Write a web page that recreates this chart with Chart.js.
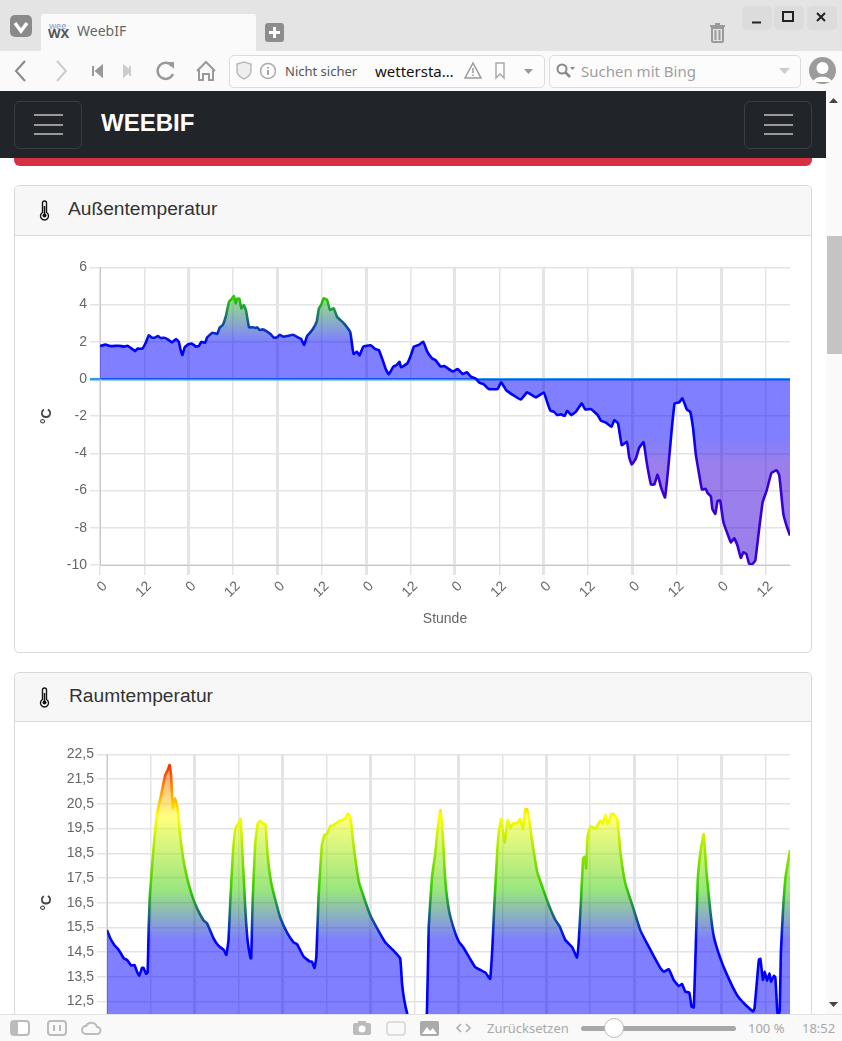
<!DOCTYPE html>
<html lang="de">
<head>
<meta charset="UTF-8">
<title>WeebIF</title>
<script src="https://cdn.jsdelivr.net/npm/chart.js"></script>
<style>
    html, body { margin: 0; padding: 0; width: 842px; height: 1041px; overflow: hidden; background: #fff; }
    body { position: relative; font-family: "Liberation Sans", Arial, sans-serif; }
    .abs, canvas, svg.abs { position: absolute; }
    .ui { position: absolute; font-family: "Noto Sans", sans-serif; white-space: nowrap; }
    #tabbar { left: 0; top: 0; width: 842px; height: 51px; background: #e4e4e4; }
    #tab { left: 41px; top: 14px; width: 215px; height: 37px; background: #fafafa; border-radius: 3px 3px 0 0; }
    #toolbar { left: 0; top: 51px; width: 842px; height: 40px; background: #fafafa; }
    .field { top: 55px; height: 31px; background: #fcfcfc; border: 1px solid #dcdcdc; border-radius: 5px; }
    #navbar { left: 0; top: 91px; width: 826px; height: 67px; background: #212529; z-index: 3; }
    .burger { top: 101px; width: 66px; height: 46px; border: 1px solid #3a3e43; border-radius: 6px; z-index: 4; }
    .burger i { position: absolute; left: 19px; width: 29px; height: 2px; background: #999; }
    #red { left: 14px; top: 150px; width: 798px; height: 16px; background: #d63042; border-radius: 0 0 6px 6px; }
    .card { left: 14px; width: 796px; border: 1px solid #d9d9d9; border-radius: 5px; background: #fff; }
    .head { left: 0; top: 0; width: 796px; background: #f7f7f7; border-bottom: 1px solid #d9d9d9; border-radius: 5px 5px 0 0; }
    .cardtitle { font-size: 19.2px; color: #333; z-index: 2; }
    #scroll { left: 826px; top: 91px; width: 16px; height: 923px; background: #fafafa; }
    #thumb { left: 827px; top: 236px; width: 15px; height: 118px; background: #c4c4c4; }
    #status { left: 0; top: 1014px; width: 842px; height: 26px; background: #f9f9f9; border-top: 1px solid #e2e2e2; border-bottom: 1px solid #333; z-index: 5; }
    .st { top: 1019px; font-size: 13px; color: #a8a8a8; z-index: 6; }
    .sicon { z-index: 6; }
</style>
</head>
<body>
<!-- browser chrome -->
<div class="abs" id="tabbar"></div>
<div class="abs" id="tab"></div>
<svg class="abs" style="left:10px;top:15px" width="23" height="23"><rect width="22" height="22" rx="5" fill="#8a8a8a"/><path d="M5 8 L11 16 L17 8" stroke="#fff" stroke-width="3.5" fill="none"/></svg>
<div class="ui" style="left:49px;top:21px;font-size:9px;line-height:9px;color:#8a96c8">wee</div>
<div class="ui" style="left:48px;top:27px;font-size:13px;line-height:13px;font-weight:700;color:#555">WX</div>
<div class="ui" style="left:77px;top:22px;font-size:14px;line-height:18px;color:#666">WeebIF</div>
<svg class="abs" style="left:265px;top:23px" width="20" height="20"><rect width="19" height="19" rx="3" fill="#8d8d8d"/><path d="M9.5 4v11M4 9.5h11" stroke="#fff" stroke-width="3"/></svg>
<svg class="abs" style="left:709px;top:23px" width="17" height="20"><path d="M1 3h15M6 1h5M3 5h11v13a1 1 0 0 1-1 1H4a1 1 0 0 1-1-1zM6.500 7v10M10.500 7v10" stroke="#9a9a9a" stroke-width="2" fill="none"/></svg>
<div class="abs" style="left:742px;top:6px;width:30px;height:24px;background:#dcdcdc;border-radius:5px"></div>
<div class="abs" style="left:774px;top:6px;width:30px;height:24px;background:#dcdcdc;border-radius:5px"></div>
<div class="abs" style="left:807px;top:6px;width:30px;height:24px;background:#dcdcdc;border-radius:5px"></div>
<svg class="abs" style="left:742px;top:6px" width="96" height="24"><path d="M10 16.500h9" stroke="#222" stroke-width="2"/><rect x="41" y="6" width="10" height="9" stroke="#222" stroke-width="2" fill="none"/><path d="M75 7l8 8M83 7l-8 8" stroke="#222" stroke-width="2"/></svg>

<div class="abs" id="toolbar"></div>
<svg class="abs" style="left:12px;top:58px" width="205" height="28">
    <path d="M13 3 L4 13 L13 23" stroke="#888" stroke-width="2" fill="none"/>
    <path d="M45 3 L54 13 L45 23" stroke="#ccc" stroke-width="2" fill="none"/>
    <path d="M81 8v10M90 8l-6 5 6 5z" stroke="#999" stroke-width="2" fill="#999"/>
    <path d="M112 8l6 5-6 5zM118 8v10" stroke="#ccc" stroke-width="2" fill="#ccc"/>
    <path d="M160 8a8 8 0 1 0 1 8" stroke="#999" stroke-width="2.500" fill="none"/><path d="M155 4h7v7z" fill="#999"/>
    <path d="M185 13l9-9 9 9M187 12v10h4v-6h6v6h4V12" stroke="#999" stroke-width="2" fill="none"/>
</svg>
<div class="abs field" style="left:229px;width:314px"></div>
<svg class="abs" style="left:236px;top:61px" width="40" height="20"><path d="M1 3l7-2 7 2v7c0 4-3 6-7 8-4-2-7-4-7-8z" stroke="#bbb" stroke-width="1.500" fill="#eee"/><circle cx="32" cy="10" r="7.500" stroke="#aaa" fill="none" stroke-width="1.500"/><path d="M32 9v5M32 6v1.500" stroke="#888" stroke-width="1.500"/></svg>
<div class="ui" style="left:285px;top:62px;font-size:13px;line-height:18px;color:#555">Nicht sicher</div>
<div class="ui" style="left:375px;top:61px;font-size:15px;line-height:20px;color:#111">wettersta…</div>
<svg class="abs" style="left:464px;top:61px" width="75" height="20"><path d="M9 2l8 15H1z" stroke="#999" stroke-width="1.500" fill="none"/><path d="M9 7v5M9 13.500v1.500" stroke="#999" stroke-width="1.500"/><path d="M32 2h8v15l-4-4-4 4z" stroke="#aaa" stroke-width="1.500" fill="none"/><path d="M60 8h9l-4.500 5z" fill="#999"/></svg>
<div class="abs field" style="left:549px;width:250px"></div>
<svg class="abs" style="left:556px;top:62px" width="20" height="18"><circle cx="6" cy="7" r="4.500" stroke="#888" stroke-width="2" fill="none"/><path d="M9 10l5 5" stroke="#888" stroke-width="2.500"/><path d="M14 5h5l-2.500 3z" fill="#888"/></svg>
<div class="ui" style="left:581px;top:60px;font-size:15px;line-height:22px;color:#a0a0a0">Suchen mit Bing</div>
<svg class="abs" style="left:778px;top:67px" width="14" height="8"><path d="M1 1h11l-5.500 6z" fill="#ccc"/></svg>
<svg class="abs" style="left:809px;top:57px" width="27" height="27"><circle cx="13.500" cy="13.500" r="13.500" fill="#9c9c9c"/><circle cx="13.500" cy="11" r="6" fill="#fff"/><path d="M4 25c2-7 17-7 19 0z" fill="#fff"/></svg>

<!-- page -->
<div class="abs" id="red"></div>
<div class="abs" id="navbar"></div>
<div class="abs burger" style="left:14px"><i style="top:12px"></i><i style="top:22px"></i><i style="top:31px"></i></div>
<div class="abs burger" style="left:744px"><i style="top:12px"></i><i style="top:22px"></i><i style="top:31px"></i></div>
<div class="abs" style="left:101px;top:108px;font-size:24px;line-height:30px;font-weight:700;color:#fff;z-index:4">WEEBIF</div>
<div class="abs" id="scroll"></div>
<div class="abs" id="thumb"></div>
<svg class="abs" style="left:829px;top:97px" width="10" height="6"><path d="M0 6h9L4.500 1z" fill="#444"/></svg>
<svg class="abs" style="left:829px;top:1002px" width="10" height="6"><path d="M0 0h9L4.500 5z" fill="#444"/></svg>

<div class="abs card" style="top:185px;height:466px"><div class="abs head" style="height:49px"></div></div>
<svg class="abs" style="left:39px;top:200px;z-index:2" width="11" height="21"><path d="M3.500 3a2 2 0 0 1 4 0v9.500a4 4 0 1 1-4 0z" stroke="#111" stroke-width="1.400" fill="#fff"/><path d="M5.500 6v9" stroke="#111" stroke-width="1.500"/><circle cx="5.500" cy="15.500" r="2" fill="#111"/></svg>
<div class="abs cardtitle" style="left:68px;top:198px;line-height:22px">Außentemperatur</div>
<canvas id="outsideChart" width="768" height="376" style="left:34px;top:256px"></canvas>

<div class="abs card" style="top:672px;height:420px"><div class="abs head" style="height:48px"></div></div>
<svg class="abs" style="left:39px;top:687px;z-index:2" width="11" height="21"><path d="M3.500 3a2 2 0 0 1 4 0v9.500a4 4 0 1 1-4 0z" stroke="#111" stroke-width="1.400" fill="#fff"/><path d="M5.500 6v9" stroke="#111" stroke-width="1.500"/><circle cx="5.500" cy="15.500" r="2" fill="#111"/></svg>
<div class="abs cardtitle" style="left:69px;top:685px;line-height:22px">Raumtemperatur</div>
<canvas id="roomChart" width="768" height="375" style="left:34px;top:743px"></canvas>

<!-- status bar -->
<div class="abs" id="status"></div>
<svg class="abs sicon" style="left:10px;top:1020px" width="95" height="16">
    <rect x="1" y="1" width="18" height="14" rx="3" fill="#fff" stroke="#bbb" stroke-width="2"/><rect x="1" y="1" width="7" height="14" rx="2" fill="#bbb"/>
    <rect x="38" y="1" width="18" height="14" rx="3" fill="none" stroke="#bbb" stroke-width="2"/><path d="M44 5v6M50 5v6" stroke="#bbb" stroke-width="2"/>
    <path d="M76 14a4 4 0 0 1 0-8 6 6 0 0 1 11 1 3.500 3.500 0 0 1 0 7z" fill="none" stroke="#bbb" stroke-width="2"/>
</svg>
<svg class="abs sicon" style="left:352px;top:1020px" width="122" height="16">
    <rect x="1" y="3" width="18" height="12" rx="2" fill="#bbb"/><circle cx="10" cy="9" r="3.500" fill="#fff"/><rect x="6" y="1" width="8" height="3" fill="#bbb"/>
    <rect x="35" y="2" width="18" height="13" rx="3" fill="none" stroke="#ddd" stroke-width="2"/>
    <rect x="68" y="1" width="19" height="15" rx="2" fill="#aaa"/><path d="M70 14l5-7 3 4 3-3 4 6z" fill="#fff"/>
    <path d="M109 4l-4 4 4 4M114 4l4 4-4 4" stroke="#aaa" stroke-width="1.500" fill="none"/>
</svg>
<div class="ui st" style="left:487px">Zurücksetzen</div>
<div class="abs sicon" style="left:581px;top:1026px;width:155px;height:5px;background:#a8a8a8;border-radius:3px"></div>
<div class="abs sicon" style="left:604px;top:1018px;width:18px;height:18px;background:#fff;border:1px solid #bbb;border-radius:50%"></div>
<div class="ui st" style="left:748px">100 %</div>
<div class="ui st" style="left:802px">18:52</div>

<script>
// Aussentemperatur: hours since start, degrees C
const outsideHours = [0,1.5,2.9,5.1,6.5,7.4,8.5,9.5,10.1,11.4,12.3,13.2,13.9,14.8,15.7,16.4,17.3,18.2,19.5,20.6,21.3,21.8,22.3,22.9,24,24.9,25.9,26.8,27.4,28.4,29,30.4,31.7,32.4,33.2,34,34.9,35.5,36.2,36.7,37.1,37.7,38.2,38.9,39.5,40.3,41.2,42.1,42.5,43.2,43.9,45,46.1,47,47.9,48.6,49.5,50.6,52.2,53.5,54.4,55.2,56,57.4,58.6,59.2,59.8,60.5,61.4,62.2,63.2,64.1,65.5,66.7,67.7,68.3,68.6,69.5,70.2,71.2,73.2,74.5,75.4,76.6,77.2,78.1,79.3,80.2,81,81.4,83.1,84,84.9,86.2,87.4,88.5,89.8,90.7,92.1,93.1,95.4,96.7,98.1,99.2,100.3,101.5,102.6,103.7,105.1,107.5,108.5,109.8,112,113.8,115.5,117.9,120,120.9,121.8,122.8,123.6,124.6,125.7,126.3,127.5,128.7,130.3,131.2,132.8,134.6,135.5,136.8,138.3,139.1,140.1,141.1,142.5,143.1,143.8,144.9,145.8,147,147.9,149,149.9,150.8,151.7,152.8,153.7,154.6,155.4,156.6,157.5,158.7,159.6,160.4,161.1,162,162.8,163.8,164.3,165.2,165.6,166.4,167,167.7,168.6,170.6,171.5,172.4,173.3,174,174.8,175.5,176.2,177.2,178.2,179.2,180.3,181.6,183,183.7,184.8,185.7,186.6];
const outsideTemps = [1.77,1.85,1.77,1.79,1.74,1.79,1.65,1.5,1.63,1.63,1.92,2.35,2.24,2.22,2.31,2.2,2.22,2.15,1.97,2.15,2,1.56,1.29,1.7,1.88,1.9,1.74,1.79,2,1.95,2.24,2.49,2.42,2.78,2.9,3.35,4.16,4.28,4.46,4.07,4.32,4.32,3.8,3.98,3.67,2.78,2.78,2.74,2.78,2.63,2.67,2.58,2.42,2.22,2.24,2.38,2.28,2.31,2.38,2.24,2.15,1.83,2.31,2.63,3.08,3.8,3.98,4.34,4.25,3.71,3.8,3.35,3.08,2.81,2.51,1.65,1.34,1.47,1.27,1.74,1.81,1.6,1.56,0.93,0.57,0.25,0.66,0.75,0.93,0.63,0.84,1.24,1.74,1.83,2,1.47,1.11,1.02,0.67,0.7,0.4,0.54,0.27,0.36,0.13,0.04,-0.2,-0.27,-0.54,-0.54,-0.18,-0.59,-0.9,-1.1,-0.72,-0.99,-0.72,-1.22,-1.71,-1.76,-1.94,-1.9,-1.98,-1.71,-1.94,-1.76,-1.31,-1.64,-1.62,-1.94,-2.25,-2.34,-2.57,-2.21,-2.39,-3.56,-3.38,-4.19,-4.6,-4.28,-3.7,-3.4,-4.55,-5.67,-5.67,-5.14,-5.81,-6.37,-4.73,-2.75,-1.31,-1.26,-1.04,-1.64,-1.76,-2.66,-4.01,-5.09,-5.95,-5.9,-6.13,-6.31,-6.98,-7.25,-6.56,-6.53,-7.7,-8.78,-8.56,-8.96,-9.62,-9.32,-9.41,-9.91,-9.98,-9.77,-8.15,-6.62,-5.99,-5.04,-4.91,-5.18,-7.25,-7.91,-8.42];

// Raumtemperatur: hours since start, degrees C (the dips under 12 are cut off by the window, so estimated)
const roomHours = [0,0.9,2,3.2,4.6,5.5,6.6,7.5,8.2,8.8,9.6,10,10.7,11.1,11.4,11.7,12.6,13.7,14.6,15.9,16.6,17.1,17.5,18,18.6,19.3,20,20.8,21.9,23.2,24.6,26.4,27.3,29.1,30.5,31.9,32.6,33.2,33.7,34.4,35.1,36,36.5,37,37.8,38.4,39.2,39.4,39.8,40.5,41.2,41.9,42.6,43.3,43.9,44.8,46,47.4,49.2,51,51.9,53.7,55.4,56,56.7,57.2,57.8,58.7,59.4,60.1,61,61.9,63.3,65.1,65.8,66.5,67.4,68.8,70.1,71.9,73.8,76,78.3,80.1,80.6,81.2,82.1,83.5,85,86.5,87.4,87.9,88.8,89.7,90.3,91.1,91.8,92.4,93.4,94.7,96.1,97.5,99.1,100.6,102,103.4,104.3,104.7,105.3,105.8,106.6,107,107.7,108.6,109.5,110.2,110.9,112,112.9,113.6,114.3,114.8,115.4,116.1,117.5,118.9,120.7,122.5,123.7,125.2,127.1,128.4,128.9,129.5,130.1,130.6,130.9,131.3,132.1,133.4,134.8,135.4,136.2,136.8,137.8,138.4,139.4,140.3,141.6,143.5,145.7,148,151.2,152.1,153.5,154.8,156.2,157.1,158,159.1,159.7,160.3,160.8,161.4,162.1,163,163.8,164.9,165.8,167.4,169.4,172.1,174.4,176.5,176.9,177.6,178.1,178.5,179.2,179.7,180.3,181,181.4,182.2,182.6,183.1,183.4,183.8,184.1,184.7,185.4,186.6];
const roomTemps = [15.4,15.06,14.79,14.59,14.25,14.18,13.96,13.98,13.71,13.55,13.87,13.86,13.62,13.67,15.53,16.75,18.5,20.11,20.72,21.66,21.87,22.07,21.66,20.32,20.72,20.32,19.17,18.3,17.49,16.81,16.27,15.78,15.67,15.06,14.75,14.59,14.39,14.99,16.61,18.5,19.51,19.74,19.9,18.5,16.21,14.99,14.25,14.25,16.61,18.9,19.71,19.82,19.71,19.67,18.36,17.35,16.61,15.87,15.29,14.89,14.83,14.32,14.12,14.12,13.86,14.32,16.75,18.83,19.24,19.28,19.6,19.64,19.8,19.91,20.11,19.95,18.77,17.35,16.75,16,15.46,14.9,14.56,14.25,13.24,12.57,11.96,11.3,11,11.3,12.03,15.53,17.55,18.5,19.44,20.25,19.04,17.42,16.21,15.47,14.93,14.66,14.25,13.89,13.78,13.67,13.48,13.42,14.72,16.34,18.5,19.31,19.89,18.93,19.85,19.51,19.71,19.71,19.89,19.47,20.28,20.28,19.78,19.04,17.76,17.15,16.41,15.8,15.53,14.99,14.7,14.28,14.99,16.61,18.3,18.36,17.89,19.17,19.6,19.49,19.82,19.71,20.06,19.68,20.09,20.09,19.87,18.5,17.28,16.41,15.39,14.72,13.85,13.71,13.81,13.38,13.13,13.21,12.9,12.86,12.3,12.26,14.45,17.42,18.5,19.28,17.69,16.07,15.12,14.32,13.58,12.77,12.37,12.1,12.23,13.38,14.19,14.23,13.38,13.71,13.35,13.64,13.31,13.54,13.48,12.16,11.9,12.16,14.45,16.21,17.55,18.63];

const xAxisTitle = 'Stunde';
const yAxisTitle = '°C';
const hourLabelDay = '0';
const hourLabelNoon = '12';

const outsideStops = [[-10, '55,0,215'], [-4.6, '55,0,215'], [-3, '0,0,255'], [2, '0,0,255'], [4.4, '45,205,0']];
const roomStops = [[10.5, '0,0,255'], [15, '0,0,255'], [17, '51,204,0'], [20, '255,255,0'], [22.2, '255,32,0']];

const GRID = '#e4e4e4';
const TEXT = '#666';

function tempGradient(chart, stops, alpha) {
    if (!chart.chartArea) return 'rgba(0,0,255,' + alpha + ')';
    const y = chart.scales.y;
    const first = stops[0][0], last = stops[stops.length - 1][0];
    const g = chart.ctx.createLinearGradient(0, y.getPixelForValue(first), 0, y.getPixelForValue(last));
    stops.forEach(s => g.addColorStop((s[0] - first) / (last - first), 'rgba(' + s[1] + ',' + alpha + ')'));
    return g;
}

function makeChart(id, hours, temps, stops, yMin, yMax, yStep, yWidth, yLabel) {
    return new Chart(document.getElementById(id), {
        type: 'line',
        data: {
            datasets: [{
                data: hours.map((h, i) => ({ x: h, y: temps[i] })),
                borderWidth: 2.6,
                pointRadius: 0,
                tension: 0.1,
                fill: id === 'outsideChart' ? 'origin' : 'start',
                borderColor: c => tempGradient(c.chart, stops, 1),
                backgroundColor: c => tempGradient(c.chart, stops, 0.5)
            }]
        },
        options: {
            responsive: false,
            animation: false,
            devicePixelRatio: 1,
            layout: { padding: { top: 10, right: 12 } },
            plugins: { legend: { display: false }, tooltip: { enabled: false } },
            scales: {
                x: {
                    type: 'linear',
                    min: 0,
                    max: 186.6,
                    afterFit: s => { s.height = 67; },
                    border: { color: '#c8c8c8' },
                    grid: {
                        color: GRID,
                        lineWidth: c => (c.tick && c.tick.value !== 0 && c.tick.value % 24 === 0 ? 3 : 1.5),
                        tickLength: 10
                    },
                    ticks: {
                        stepSize: 12,
                        includeBounds: false,
                        minRotation: 45,
                        maxRotation: 45,
                        labelOffset: 5,
                        color: TEXT,
                        font: { size: 14 },
                        callback: v => (v % 24 === 0 ? hourLabelDay : hourLabelNoon)
                    },
                    title: { display: true, text: xAxisTitle, color: TEXT, font: { size: 14 } }
                },
                y: {
                    min: yMin,
                    max: yMax,
                    afterFit: s => { s.width = yWidth; },
                    border: { color: '#c8c8c8' },
                    grid: {
                        color: c => (c.tick && c.tick.value === 0 ? '#2c9cf0' : GRID),
                        lineWidth: c => (c.tick && c.tick.value === 0 ? 2.5 : 1.5),
                        tickLength: 10
                    },
                    ticks: { stepSize: yStep, color: TEXT, font: { size: 14 }, callback: yLabel },
                    title: { display: true, text: yAxisTitle, color: '#444', font: { size: 14, weight: 'bold' }, padding: { top: 5, bottom: 4 } }
                }
            }
        }
    });
}

Chart.defaults.font.family = '"Liberation Sans", Arial, sans-serif';
makeChart('outsideChart', outsideHours, outsideTemps, outsideStops, -10, 6, 2, 66, v => String(v));
makeChart('roomChart', roomHours, roomTemps, roomStops, 10.5, 22.5, 1, 73, v => v.toFixed(1).replace('.', ','));
</script>
</body>
</html>
